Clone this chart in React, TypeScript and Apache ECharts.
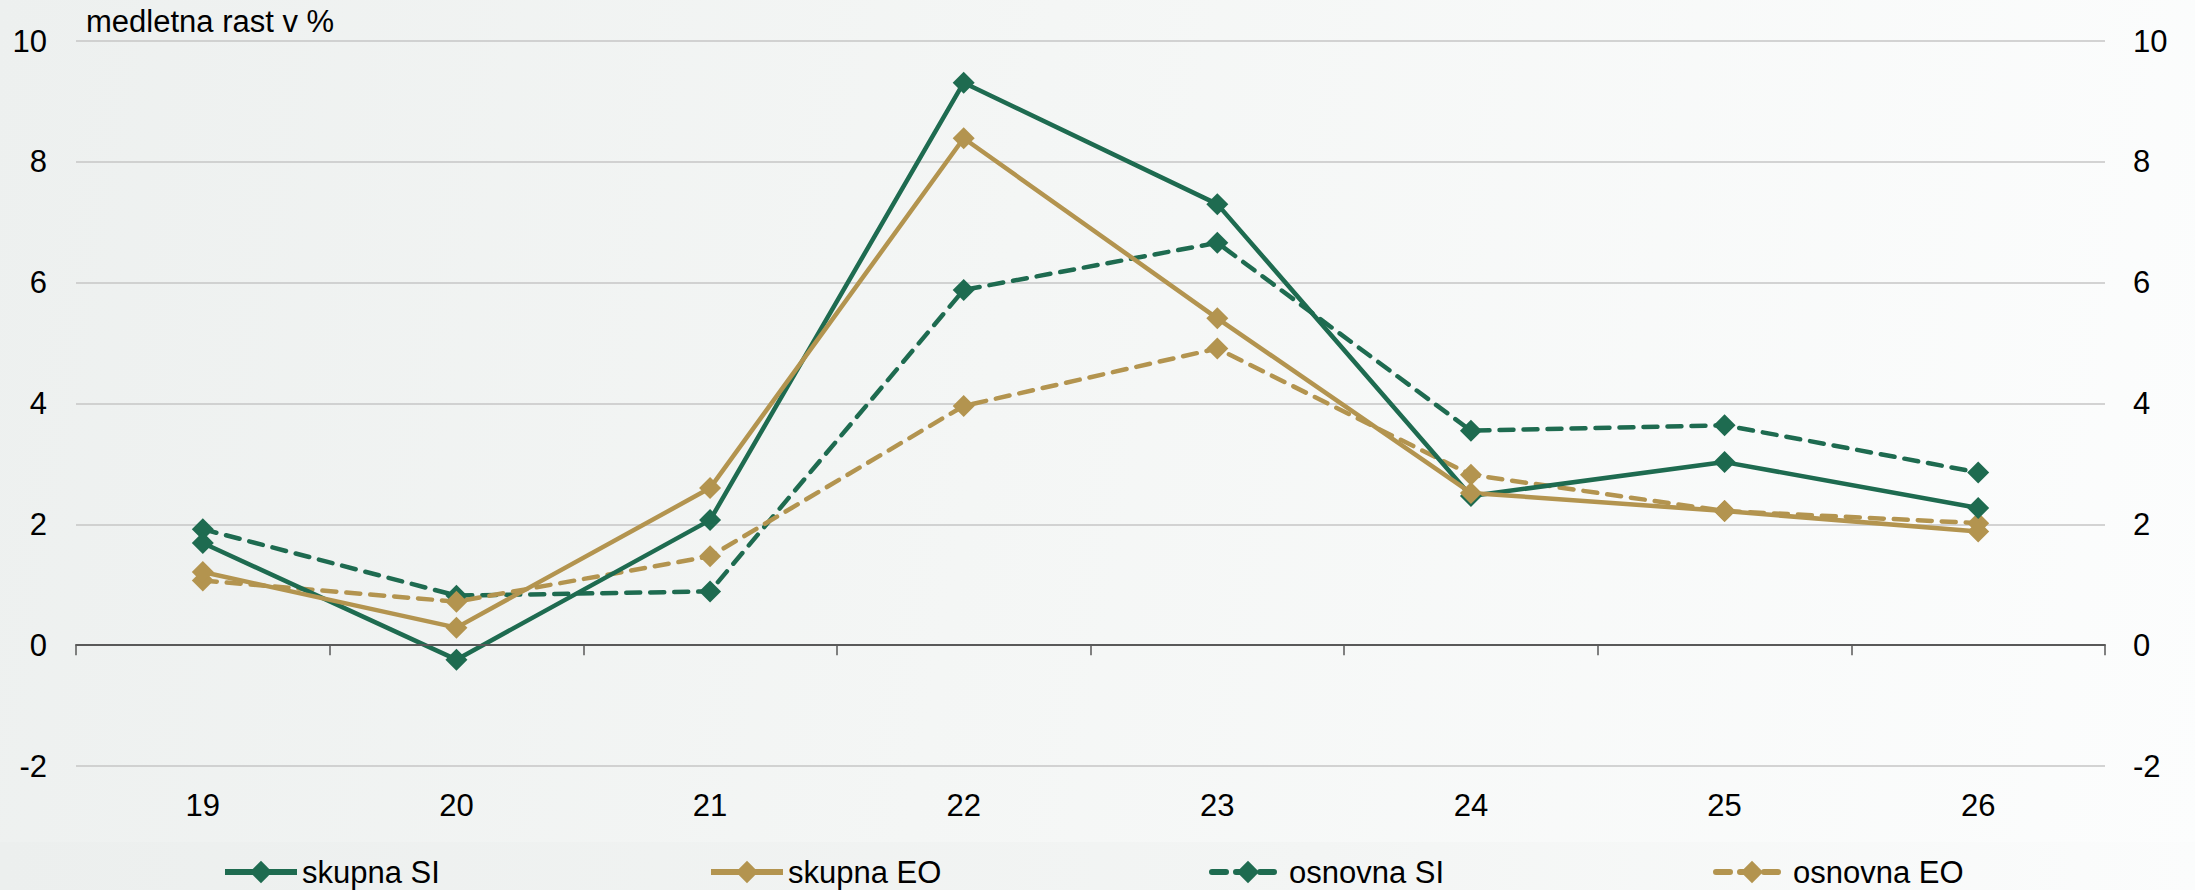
import React, { useEffect, useRef } from "react";
import * as echarts from "echarts";

const categories = ["19", "20", "21", "22", "23", "24", "25", "26"];
const skupnaSI = [1.69, -0.24, 2.07, 9.31, 7.3, 2.47, 3.03, 2.27];
const skupnaEO = [1.21, 0.29, 2.6, 8.39, 5.41, 2.52, 2.22, 1.88];
const osnovnaSI = [1.92, 0.82, 0.89, 5.88, 6.66, 3.55, 3.64, 2.86];
const osnovnaEO = [1.07, 0.72, 1.47, 3.96, 4.91, 2.82, 2.22, 2.02];
const yTicks = { min: -2, max: 10, interval: 2 };
const titleText = "medletna rast v %";

const GREEN = "#1e6b50";
const GOLD = "#b3944f";
const FONT = "'Liberation Sans', Arial, sans-serif";

export default function App() {
  const ref = useRef<HTMLDivElement>(null);
  useEffect(() => {
    document.body.style.margin = "0";
    const chart = echarts.init(ref.current!, null, { renderer: "svg" });
    const mk = (name: string, data: number[], color: string, dashed: boolean) => ({
      name,
      type: "line",
      data,
      xAxisIndex: 0,
      yAxisIndex: 0,
      symbol: "diamond",
      symbolSize: 22,
      showSymbol: true,
      itemStyle: { color },
      lineStyle: {
        color,
        width: 4.5,
        type: dashed ? [14, 10] : "solid",
        cap: dashed ? "round" : "butt",
      },
      z: dashed ? 2 : 3,
    });
    const legendAt = (name: string, left: number) => ({
      data: [name],
      left,
      top: 852,
      padding: 0,
      itemWidth: 72,
      itemHeight: 28,
      itemGap: 6,
      lineStyle: { width: 6 },
      textStyle: { fontSize: 31, fontFamily: FONT, color: "#000", lineHeight: 40 },
    });
    chart.setOption({
      animation: false,
      backgroundColor: "transparent",
      textStyle: { fontFamily: FONT },
      graphic: [
        {
          type: "rect",
          x: 0,
          y: 842,
          z: -10,
          shape: { x: 0, y: 0, width: 2195, height: 48 },
          style: {
            fill: new echarts.graphic.LinearGradient(0, 0, 1, 0, [
              { offset: 0, color: "#ecefee" },
              { offset: 0.6, color: "#f3f5f4" },
              { offset: 1, color: "#fbfcfc" },
            ]),
          },
        },
        {
          type: "text",
          x: 86,
          y: 6,
          style: { text: titleText, font: `31px ${FONT}`, fill: "#000", textVerticalAlign: "top" },
        },
      ],
      grid: { left: 76, right: 90, top: 41, bottom: 124 },
      legend: [
        legendAt("skupna SI", 222),
        legendAt("skupna EO", 708),
        legendAt("osnovna SI", 1209),
        legendAt("osnovna EO", 1713),
      ],
      xAxis: [
        {
          type: "category",
          data: categories,
          boundaryGap: true,
          position: "bottom",
          axisLine: { show: true, onZero: true, lineStyle: { color: "#595959", width: 2 } },
          axisTick: { show: true, length: 10, lineStyle: { color: "#595959", width: 1.5 } },
          axisLabel: { show: false },
          splitLine: { show: false },
          z: 5,
        },
        {
          type: "category",
          data: categories,
          boundaryGap: true,
          position: "bottom",
          axisLine: { show: false, onZero: false },
          axisTick: { show: false },
          axisLabel: { show: true, margin: 24, fontSize: 31, fontFamily: FONT, color: "#000" },
          splitLine: { show: false },
        },
      ],
      yAxis: [
        {
          type: "value",
          ...yTicks,
          position: "left",
          axisLine: { show: false },
          axisTick: { show: false },
          axisLabel: { margin: 29, fontSize: 31, fontFamily: FONT, color: "#000" },
          splitLine: { show: true, lineStyle: { color: "#c6c6c6", width: 1.5 } },
        },
        {
          type: "value",
          ...yTicks,
          position: "right",
          axisLine: { show: false },
          axisTick: { show: false },
          axisLabel: { margin: 28, fontSize: 31, fontFamily: FONT, color: "#000" },
          splitLine: { show: false },
        },
      ],
      series: [
        mk("skupna SI", skupnaSI, GREEN, false),
        mk("skupna EO", skupnaEO, GOLD, false),
        mk("osnovna SI", osnovnaSI, GREEN, true),
        mk("osnovna EO", osnovnaEO, GOLD, true),
      ],
    });
    return () => chart.dispose();
  }, []);
  return (
    <div
      ref={ref}
      style={{
        width: 2195,
        height: 890,
        background: "linear-gradient(100deg, #edf0ef 0%, #f4f6f5 45%, #fcfdfd 100%)",
      }}
    />
  );
}
